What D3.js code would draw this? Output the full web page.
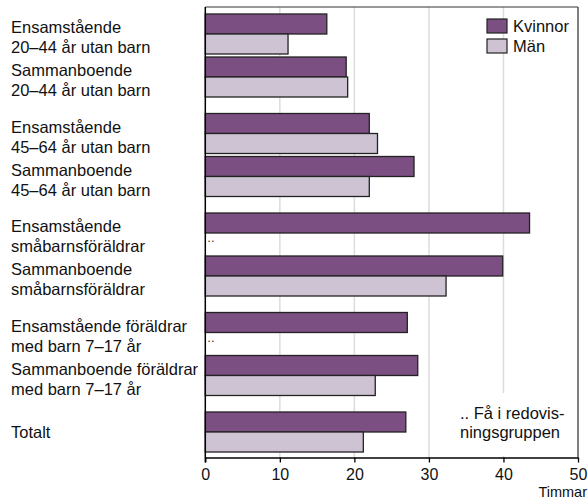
<!DOCTYPE html>
<html>
<head>
<meta charset="utf-8">
<script src="https://cdn.jsdelivr.net/npm/d3@7"></script>
<style>
  body { margin: 0; background: #fff; }
  svg { display: block; font-family: "Liberation Sans", Arial, sans-serif; }
</style>
</head>
<body>
<div id="chart"></div>
<script>
// categories (two-line labels split on |)
const categories = [
  "Ensamstående|20–44 år utan barn",
  "Sammanboende|20–44 år utan barn",
  "Ensamstående|45–64 år utan barn",
  "Sammanboende|45–64 år utan barn",
  "Ensamstående|småbarnsföräldrar",
  "Sammanboende|småbarnsföräldrar",
  "Ensamstående föräldrar|med barn 7–17 år",
  "Sammanboende föräldrar|med barn 7–17 år",
  "Totalt"
];
// which block each category sits in
const blocks = [0, 0, 1, 1, 2, 2, 3, 3, 4];
const kvinnor = [16.3, 18.9, 22.0, 28.0, 43.5, 39.9, 27.1, 28.5, 26.9];
const man     = [11.1, 19.1, 23.1, 22.0, null, 32.3, null, 22.8, 21.2];
const series  = ["Kvinnor", "Män"];
const xTicks  = [0, 10, 20, 30, 40, 50];

const width  = 588;
const height = 500;
const colors = { "Kvinnor": "#7b4f82", "Män": "#cdc3d3" };

const plot = { left: 205.3, right: 578, top: 7, bottom: 457.5 };

const x = d3.scaleLinear().domain([0, 50]).range([plot.left, plot.right]);

// blocks of two categories, categories inside a block, series inside a category
const yBlock = d3.scaleBand().domain(d3.range(5)).range([14, 495]).paddingInner(16.5 / 99.5);
const yRow   = d3.scaleBand().domain([0, 1]).range([0, yBlock.bandwidth()]).paddingInner(3 / 43);
const ySer   = d3.scaleBand().domain(series).range([0, yRow.bandwidth()]);

function rowTop(i) {
  const b = blocks[i];
  const pos = blocks.slice(0, i).filter(v => v === b).length;
  return yBlock(b) + yRow(pos);
}

const svg = d3.select("#chart").append("svg")
  .attr("width", width)
  .attr("height", height);

// gridlines
svg.append("g")
  .selectAll("line")
  .data(xTicks.slice(1, -1))
  .join("line")
  .attr("x1", d => x(d)).attr("x2", d => x(d))
  .attr("y1", plot.top).attr("y2", plot.bottom)
  .attr("stroke", "#dcdcdc")
  .attr("stroke-width", 1.5);

// note box hides the grid behind it
svg.append("rect")
  .attr("x", 455).attr("y", 393)
  .attr("width", 120).attr("height", 63)
  .attr("fill", "#fff");

// frame
svg.append("line")
  .attr("x1", plot.left).attr("x2", plot.right)
  .attr("y1", plot.top).attr("y2", plot.top)
  .attr("stroke", "#333").attr("stroke-width", 1);
svg.append("line")
  .attr("x1", plot.right).attr("x2", plot.right)
  .attr("y1", plot.top).attr("y2", plot.bottom)
  .attr("stroke", "#555").attr("stroke-width", 1.5);

// bars
const rows = categories.map((c, i) => ({ label: c, i: i, Kvinnor: kvinnor[i], "Män": man[i] }));

const rowG = svg.append("g")
  .selectAll("g")
  .data(rows)
  .join("g")
  .attr("transform", d => `translate(0,${rowTop(d.i)})`);

rowG.selectAll("rect")
  .data(d => series.filter(s => d[s] != null).map(s => ({ key: s, value: d[s] })))
  .join("rect")
  .attr("x", x(0))
  .attr("y", d => ySer(d.key))
  .attr("width", d => x(d.value) - x(0))
  .attr("height", ySer.bandwidth())
  .attr("fill", d => colors[d.key])
  .attr("stroke", "#222")
  .attr("stroke-width", 1.3);

// ".." where there are too few in the group
rowG.filter(d => d["Män"] == null)
  .append("text")
  .attr("x", x(0) + 2)
  .attr("y", ySer("Män") + 9)
  .style("font-size", "13px")
  .attr("fill", "#333")
  .text("..");

// category labels
rowG.each(function(d) {
  const lines = d.label.split("|");
  const mid = yRow.bandwidth() / 2;
  const t = d3.select(this).append("text")
    .attr("fill", "#111")
    .style("font-size", "16.5px");
  if (lines.length === 1) {
    t.append("tspan").attr("x", 11).attr("y", mid + 6).text(lines[0]);
  } else {
    t.append("tspan").attr("x", 11).attr("y", mid - 1).text(lines[0]);
    t.append("tspan").attr("x", 11).attr("y", mid + 19).text(lines[1]);
  }
});

// x axis
const xAxis = svg.append("g")
  .attr("transform", `translate(0,${plot.bottom})`)
  .call(d3.axisBottom(x).tickValues(xTicks).tickSize(5).tickSizeOuter(0).tickPadding(6));
xAxis.select(".domain").attr("stroke", "#000").attr("stroke-width", 1.5);
xAxis.selectAll(".tick line").attr("stroke", "#000").attr("stroke-width", 1.3);
xAxis.selectAll(".tick text")
  .attr("fill", "#111")
  .style("font-size", "16px")
  .style("font-family", "'Liberation Sans', Arial, sans-serif");

// left axis line
svg.append("line")
  .attr("x1", plot.left).attr("x2", plot.left)
  .attr("y1", plot.top).attr("y2", plot.bottom + 5)
  .attr("stroke", "#000").attr("stroke-width", 1.5);

svg.append("text")
  .attr("x", 587).attr("y", 496.5)
  .attr("text-anchor", "end")
  .attr("fill", "#111")
  .style("font-size", "14.5px")
  .text("Timmar");

// legend
const legend = svg.append("g")
  .selectAll("g")
  .data(series)
  .join("g")
  .attr("transform", (d, i) => `translate(487,${19 + i * 20})`);
legend.append("rect")
  .attr("width", 20).attr("height", 14)
  .attr("fill", d => colors[d])
  .attr("stroke", "#222").attr("stroke-width", 1.2);
legend.append("text")
  .attr("x", 26).attr("y", 13)
  .attr("fill", "#111")
  .style("font-size", "16.5px")
  .text(d => d);

// note
const note = svg.append("text")
  .attr("fill", "#111")
  .style("font-size", "16.5px");
note.append("tspan").attr("x", 460).attr("y", 419).text(".. Få i redovis-");
note.append("tspan").attr("x", 460).attr("y", 438).text("ningsgruppen");
</script>
</body>
</html>
